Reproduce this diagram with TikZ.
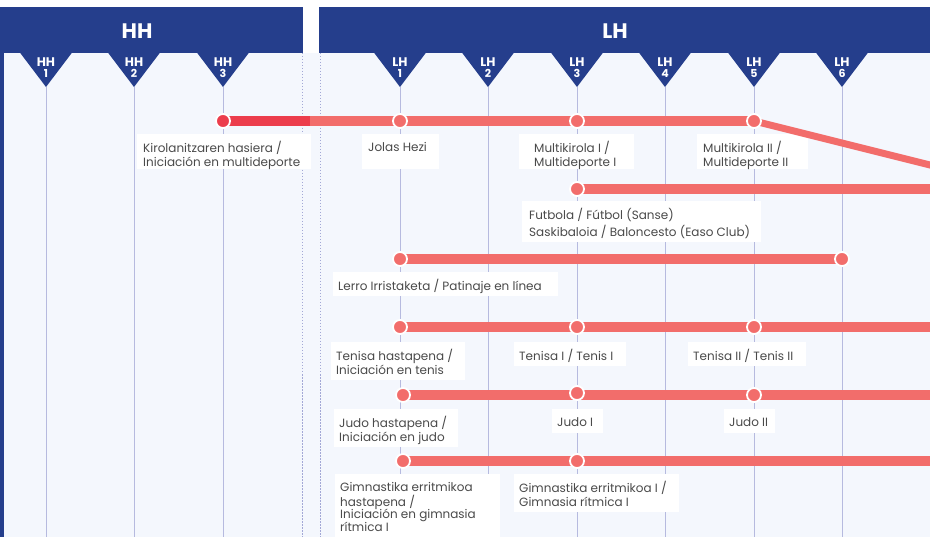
\documentclass[tikz,border=0pt]{standalone}
\usepackage{fontspec}
\setmainfont{Poppins}
\usetikzlibrary{calc}
\definecolor{bannerblue}{HTML}{253E8C}
\definecolor{bgblue}{HTML}{F4F7FD}
\definecolor{vlinec}{HTML}{B6BADF}
\definecolor{sepc}{HTML}{A3A8D6}
\definecolor{salmon}{HTML}{F26D6B}
\definecolor{darkred}{HTML}{EC3D4C}
\definecolor{txtc}{HTML}{4A4A4A}
\pgfdeclarelayer{back}
\pgfdeclarelayer{mid}
\pgfsetlayers{back,mid,main}
\newcommand\labelbox[7]{%
  \node[lblbox, anchor=north west, minimum width={#4-#2}, minimum height={#5-#3}] (#1) at (#2,#3) {};
  \node[lbltext, anchor=north west] (#1t) at (#6,#3+7.2) {\strut #7};
}
\begin{document}
\begin{tikzpicture}[x=1pt,y=-1pt,
  bannerbox/.style={fill=bannerblue, draw=none, inner sep=0pt, anchor=north west},
  bannertitle/.style={text=white, font=\bfseries\fontsize{21}{21}\selectfont, inner sep=0pt},
  trilabel/.style={text=white, font=\bfseries\fontsize{12.5}{11}\selectfont, align=center, inner sep=0pt},
  vline/.style={draw=vlinec, line width=1pt},
  sepline/.style={draw=sepc, line width=1pt, dash pattern=on 1.5pt off 1.5pt},
  lblbox/.style={fill=white, draw=none, inner sep=0pt},
  lbltext/.style={text=txtc, font=\fontsize{12}{14}\selectfont, align=left, inner sep=0pt},
  track/.style={draw=salmon, line width=10pt},
  trackdark/.style={draw=darkred, line width=10pt},
  diagtrack/.style={draw=salmon, line width=7pt},
  dot/.style={circle, fill=salmon, draw=white, line width=1.8pt, minimum size=14pt, inner sep=0pt},
  dotdark/.style={dot, fill=darkred}]
\useasboundingbox (0,0) rectangle (930,537);

\begin{pgfonlayer}{back}
  \fill[white] (0,0) rectangle (930,537);
  \fill[bgblue] (0,53) rectangle (930,537);
  \fill[bannerblue] (0,53) rectangle (4,537);
  \node[bannerbox, minimum width=303, minimum height=46] (hhbanner) at (0,7) {};
  \node[bannerbox, minimum width=611, minimum height=46] (lhbanner) at (319,7) {};
  \foreach \x/\grp/\n in {46/HH/1,134/HH/2,223/HH/3,400/LH/1,488/LH/2,577/LH/3,665/LH/4,754/LH/5,842/LH/6} {
    \fill[bannerblue] (\x-26.5,52) -- (\x+26.5,52) -- (\x,87) -- cycle;
    \draw[vline] (\x,87) -- (\x,537);
  }
  \draw[sepline] (302,53) -- (302,537);
  \draw[sepline] (320,53) -- (320,537);

  \labelbox{lk}{137}{134}{311}{169}{143}{Kirolanitzaren hasiera /\\Iniciación en multideporte}
  \labelbox{ljh}{362}{134}{439}{169}{368}{Jolas Hezi}
  \labelbox{lm1}{519}{134}{634}{169}{534}{Multikirola I /\\Multideporte I}
  \labelbox{lm2}{697}{134}{808}{169}{703}{Multikirola II /\\Multideporte II}
  \labelbox{lf}{522}{201}{761}{242}{529}{Futbola / Fútbol (Sanse)\\Saskibaloia / Baloncesto (Easo Club)}
  \labelbox{ll}{333}{272}{558}{296}{338}{Lerro Irristaketa / Patinaje en línea}
  \labelbox{lt0}{331}{342}{465}{380}{336}{Tenisa hastapena /\\Iniciación en tenis}
  \labelbox{lt1}{514}{342}{626}{366}{519}{Tenisa I / Tenis I}
  \labelbox{lt2}{688}{342}{806}{366}{693}{Tenisa II / Tenis II}
  \labelbox{lj0}{334}{409}{458}{447}{339}{Judo hastapena /\\Iniciación en judo}
  \labelbox{lj1}{552}{409}{603}{433}{557}{Judo I}
  \labelbox{lj2}{724}{409}{775}{433}{729}{Judo II}
  \labelbox{lg0}{335}{474}{500}{545}{340}{Gimnastika erritmikoa\\[-1.5pt]hastapena /\\[-1.5pt]Iniciación en gimnasia\\[-1.5pt]rítmica I}
  \labelbox{lg1}{514}{474}{679}{512}{519}{Gimnastika erritmikoa I /\\Gimnasia rítmica I}
\end{pgfonlayer}

% titles and triangle labels
\node[bannertitle] (hhtitle) at (137,31.5) {HH};
\node[bannertitle] (lhtitle) at (615,31.5) {LH};
\foreach \x/\grp/\n in {46/HH/1,134/HH/2,223/HH/3,400/LH/1,488/LH/2,577/LH/3,665/LH/4,754/LH/5,842/LH/6} {
  \node[trilabel] (tri\grp\n) at (\x,67.5) {\grp\\{\fontsize{11}{11}\selectfont\n}};
}

% dots
\node[dotdark] (d1a) at (223,121) {};
\node[dot] (d1b) at (400,121) {};
\node[dot] (d1c) at (577,121) {};
\node[dot] (d1d) at (754,121) {};
\node[dot] (d2a) at (577,189) {};
\node[dot] (d3a) at (400,259) {};
\node[dot] (d3b) at (842,259) {};
\node[dot] (d4a) at (400,327) {};
\node[dot] (d4b) at (577,327) {};
\node[dot] (d4c) at (754,327) {};
\node[dot] (d5a) at (403,395) {};
\node[dot] (d5b) at (577,393) {};
\node[dot] (d5c) at (754,395) {};
\node[dot] (d6a) at (403,461) {};
\node[dot] (d6b) at (577,461) {};

\coordinate (c1dark) at (309.5,121);
\coordinate (e1) at (950,170);
\coordinate (e2) at (935,189);
\coordinate (e4) at (935,327);
\coordinate (e5) at (935,395);
\coordinate (e6) at (935,461);

\begin{pgfonlayer}{mid}
  \draw[track] (309,121) -- (d1d.center);
  \draw[trackdark] (d1a.center) -- (c1dark);
  \draw[diagtrack] (d1d.center) -- (e1);
  \draw[track] (d2a.center) -- (e2);
  \draw[track] (d3a.center) -- (d3b.center);
  \draw[track] (d4a.center) -- (e4);
  \draw[track] (d5a.center) -- (e5);
  \draw[track] (d6a.center) -- (e6);
\end{pgfonlayer}
\end{tikzpicture}
\end{document}
